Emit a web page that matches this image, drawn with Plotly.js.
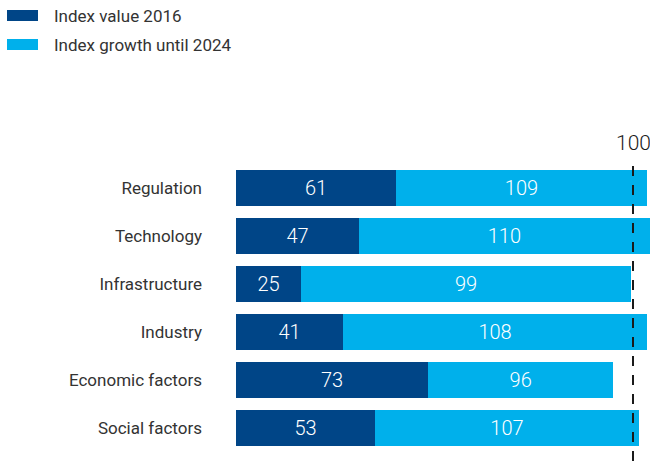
<!DOCTYPE html>
<html>
<head>
<meta charset="utf-8">
<script src="https://cdn.plot.ly/plotly-3.0.1.min.js"></script>
<style>
  html, body { margin: 0; padding: 0; background: #fff; }
  #chart { width: 650px; height: 461px; }
</style>
</head>
<body>
<div id="chart"></div>
<script>
// categories, top to bottom
const categories = ['Regulation', 'Technology', 'Infrastructure', 'Industry', 'Economic factors', 'Social factors'];

// printed numbers
const value2016 = [61, 47, 25, 41, 73, 53];
const index2024 = [109, 110, 99, 108, 96, 107];

// bar lengths as drawn in the picture (axis where the dashed line sits at 100)
const len2016 = [40.3, 31.0, 16.4, 27.0, 48.4, 35.0];
const lenGrowth = [63.2, 73.2, 83.1, 76.5, 46.6, 66.5];

const darkBlue = '#004587';
const lightBlue = '#00b0eb';
const textGrey = '#333333';

// plot box in pixels
const W = 650, H = 461;
const mL = 236, mR = 0, mT = 164, mB = 9;
const plotW = W - mL - mR, plotH = H - mT - mB;

function px2x(px) { return (px - mL) / plotW; }
function px2y(py) { return (H - mB - py) / plotH; }

let barFont = { color: '#ffffff', size: 20, family: 'Roboto, sans-serif', weight: 300 };

let trace2016 = {
    y: categories,
    x: len2016,
    name: 'Index value 2016',
    type: 'bar',
    orientation: 'h',
    text: value2016.map(v => String(v)),
    textposition: 'inside',
    insidetextanchor: 'middle',
    constraintext: 'none',
    textangle: 0,
    textfont: barFont,
    marker: { color: darkBlue, line: { width: 0 } },
    hoverinfo: 'skip'
};

let traceGrowth = {
    y: categories,
    x: lenGrowth,
    name: 'Index growth until 2024',
    type: 'bar',
    orientation: 'h',
    text: index2024.map(v => String(v)),
    textposition: 'inside',
    insidetextanchor: 'middle',
    constraintext: 'none',
    textangle: 0,
    textfont: barFont,
    marker: { color: lightBlue, line: { width: 0 } },
    hoverinfo: 'skip'
};

// legend drawn by hand so the swatches keep their wide shape
const legendItems = [
    { label: trace2016.name, color: darkBlue, top: 10, bottom: 21, mid: 15.5 },
    { label: traceGrowth.name, color: lightBlue, top: 39, bottom: 50, mid: 44.5 }
];

let shapes = [];
let annotations = [];

legendItems.forEach(item => {
    shapes.push({
        type: 'rect', xref: 'paper', yref: 'paper',
        x0: px2x(7), x1: px2x(38), y0: px2y(item.bottom), y1: px2y(item.top),
        fillcolor: item.color, line: { width: 0 }
    });
    annotations.push({
        xref: 'paper', yref: 'paper', x: px2x(52), y: px2y(item.mid),
        xanchor: 'left', yanchor: 'middle', showarrow: false,
        text: item.label,
        font: { size: 17, color: textGrey, family: 'Roboto, sans-serif' }
    });
});

// reference line at 100
shapes.push({
    type: 'line', xref: 'x', yref: 'paper',
    x0: 100, x1: 100, y0: px2y(461), y1: px2y(158),
    line: { color: '#1a1a1a', width: 2, dash: '10px,9px' },
    layer: 'above'
});
annotations.push({
    xref: 'x', yref: 'paper', x: 100, y: px2y(142.5),
    xanchor: 'center', yanchor: 'middle', showarrow: false,
    text: '100',
    font: { size: 21, color: '#1a1a1a', family: 'Roboto, sans-serif', weight: 300 }
});

let layout = {
    width: W,
    height: H,
    barmode: 'stack',
    bargap: 0.27,
    showlegend: false,
    hovermode: false,
    paper_bgcolor: '#ffffff',
    plot_bgcolor: '#ffffff',
    margin: { l: mL, r: mR, t: mT, b: mB, pad: 0 },
    font: { family: 'Roboto, sans-serif', color: textGrey },
    xaxis: {
        range: [0, plotW / 3.97],
        visible: false,
        fixedrange: true
    },
    yaxis: {
        autorange: 'reversed',
        showgrid: false,
        zeroline: false,
        showline: false,
        ticks: '',
        ticklabelstandoff: 33,
        tickfont: { size: 17, color: textGrey, family: 'Roboto, sans-serif' },
        fixedrange: true
    },
    shapes: shapes,
    annotations: annotations
};

Plotly.newPlot('chart', [trace2016, traceGrowth], layout, { displayModeBar: false, staticPlot: true });
</script>
</body>
</html>
